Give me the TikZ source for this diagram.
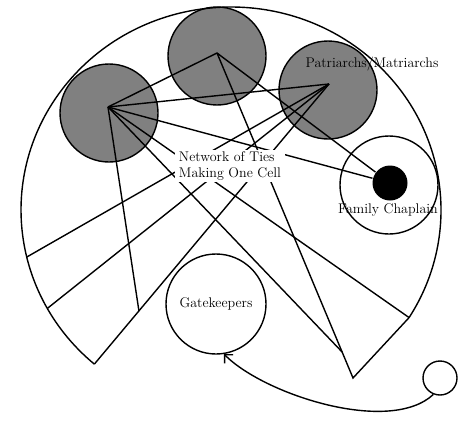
\documentclass[tikz,border=0pt]{standalone}
\usepackage{tikz}
\usetikzlibrary{calc,arrows.meta}

\begin{document}
\begin{tikzpicture}[x=1pt, y=-1pt, line width=1.4pt,
    family/.style={circle, draw, fill=black!50, minimum size=98pt, inner sep=0pt},
    ring/.style={circle, draw, minimum size=#1, inner sep=0pt},
    lbl/.style={font=\fontsize{14}{16}\selectfont},
    >={Straight Barb[length=6pt,width=12pt]}]
    \useasboundingbox (0,0) rectangle (465,420);
    % the three families
    \node[family] (famL) at (109,113) {};
    \node[family] (famT) at (217,56) {};
    \node[family] (famR) at (328,90) {};
    \coordinate (hubL) at (108,107);
    \coordinate (hubT) at (217,53);
    \coordinate (hubR) at (329,84);
    % chaplain
    \node[ring=98pt] (chap) at (389,185) {};
    \node[circle, fill, minimum size=35pt, inner sep=0pt] (dot) at (390,183) {};
    % outer rim of the cell
    \coordinate (ctr) at (231,210);
    \path (ctr) ++(130.6:210 and 203) coordinate (endL)
          (ctr) ++(151:210 and 203) coordinate (rimB)
          (ctr) ++(166.6:210 and 203) coordinate (rimA)
          (ctr) ++(32:210 and 203) coordinate (endR);
    \draw (endL) arc[start angle=130.6, end angle=392, x radius=210, y radius=203];
    \coordinate (bot) at (353,378);
    \coordinate (meetB) at ($(hubT)!0.92!(bot)$);
    \coordinate (meetF) at ($(hubR)!0.81!(endL)$);
    % ties
    \draw (hubL) -- (hubT);
    \draw (hubL) -- (hubR);
    \draw (hubL) -- (dot);
    \draw (hubL) -- (endR);
    \draw (hubL) -- (meetB);
    \draw (hubL) -- (meetF);
    \draw (hubT) -- (dot);
    \draw (hubT) -- (bot) -- (endR);
    \draw (hubR) -- (rimA);
    \draw (hubR) -- (rimB);
    \draw (hubR) -- (endL);
    % labels
    \node[lbl, fill=white, align=left, inner xsep=4pt, inner ysep=1.5pt] (ties) at (230,166) {Network of Ties\\Making One Cell};
    \node[lbl] (patr) at (372,64) {Patriarchs/Matriarchs};
    \node[lbl] (chapLbl) at (388,210) {Family Chaplain};
    \node[ring=100pt, lbl] (gate) at (216,304) {Gatekeepers};
    \node[ring=34pt] (out) at (440,378) {};
    \draw[->] (out.248) .. controls (390,435) and (265,395) .. (gate.279);
\end{tikzpicture}
\end{document}
